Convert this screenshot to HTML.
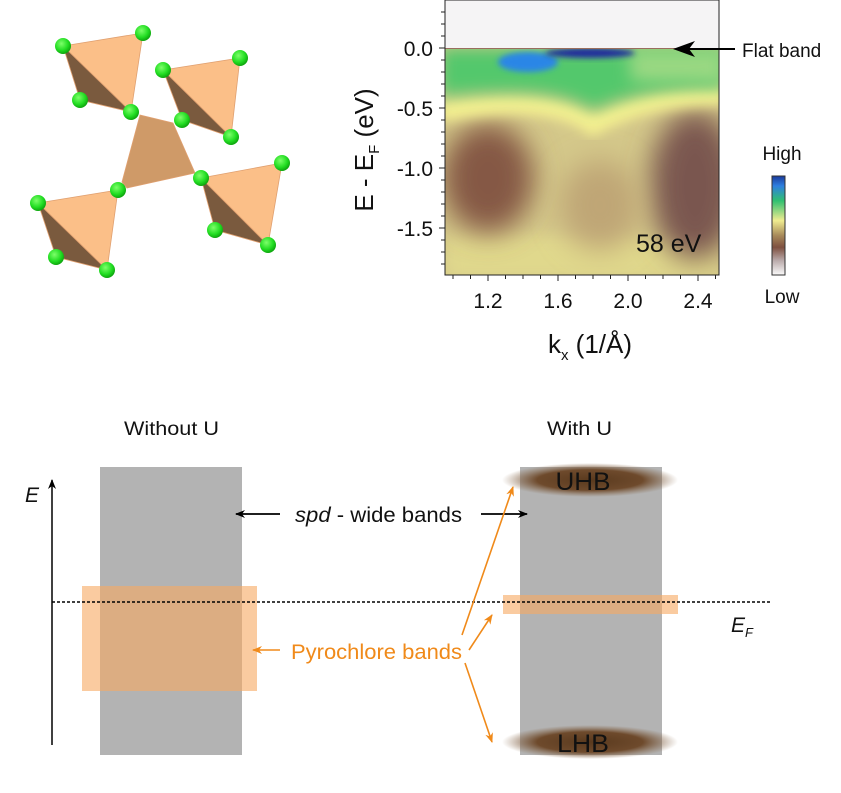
<!DOCTYPE html>
<html><head><meta charset="utf-8"><style>html,body{margin:0;padding:0;background:#fff}svg{display:block}</style></head>
<body>
<svg width="841" height="793" viewBox="0 0 841 793" xmlns="http://www.w3.org/2000/svg" font-family="Liberation Sans, sans-serif">
<defs>
<filter id="b8" x="-50%" y="-50%" width="200%" height="200%"><feGaussianBlur stdDeviation="8"/></filter>
<filter id="b14" x="-50%" y="-50%" width="200%" height="200%"><feGaussianBlur stdDeviation="14"/></filter>
<filter id="b4" x="-50%" y="-50%" width="200%" height="200%"><feGaussianBlur stdDeviation="3"/></filter>
<filter id="b6" x="-50%" y="-50%" width="200%" height="200%"><feGaussianBlur stdDeviation="6"/></filter>
<clipPath id="pc"><rect x="445" y="48" width="274" height="227"/></clipPath>
<linearGradient id="cb" x1="0" y1="0" x2="0" y2="1">
<stop offset="0" stop-color="#1a3a9a"/><stop offset="0.1" stop-color="#2e7fe0"/><stop offset="0.25" stop-color="#30c070"/>
<stop offset="0.45" stop-color="#f0ec90"/><stop offset="0.6" stop-color="#a88a5a"/><stop offset="0.72" stop-color="#7e5040"/>
<stop offset="0.85" stop-color="#b8a8a8"/><stop offset="1" stop-color="#fafafa"/></linearGradient>
<radialGradient id="hb"><stop offset="0" stop-color="#5a3a1e"/><stop offset="0.6" stop-color="#6e4a2c"/><stop offset="1" stop-color="#8a6a4c" stop-opacity="0"/></radialGradient>
<radialGradient id="sp" cx="0.4" cy="0.35" r="0.7"><stop offset="0" stop-color="#7dff6a"/><stop offset="0.6" stop-color="#22dd22"/><stop offset="1" stop-color="#0a9a0a"/></radialGradient>
<marker id="ak" markerWidth="10" markerHeight="8" refX="9" refY="4" orient="auto" markerUnits="userSpaceOnUse"><path d="M0,0 L10,4 L0,8 L3,4z" fill="#000"/></marker>
<marker id="ao" markerWidth="10" markerHeight="8" refX="9" refY="4" orient="auto" markerUnits="userSpaceOnUse"><path d="M0,0 L10,4 L0,8 L3,4z" fill="#f08a1a"/></marker>
</defs>

<g stroke="#e0a070" stroke-width="0.8">
<polygon points="140,115 173,123 195,173 127,188 122,182" fill="#cf9a68"/>
<polygon points="63,46 143,33 131,112" fill="#fbbf88"/><polygon points="63,46 131,112 80,100" fill="#7a5a3e"/>
<polygon points="163,70 240,58 231,137" fill="#fbbf88"/><polygon points="163,70 231,137 182,120" fill="#7a5a3e"/>
<polygon points="38,203 118,190 107,270" fill="#fbbf88"/><polygon points="38,203 107,270 56,257" fill="#7a5a3e"/>
<polygon points="201,178 282,163 268,245" fill="#fbbf88"/><polygon points="201,178 268,245 215,230" fill="#7a5a3e"/>
</g>
<g fill="url(#sp)">
<circle cx="63" cy="46" r="8"/><circle cx="143" cy="33" r="8"/><circle cx="80" cy="100" r="8"/><circle cx="131" cy="112" r="8"/>
<circle cx="163" cy="70" r="8"/><circle cx="240" cy="58" r="8"/><circle cx="182" cy="120" r="8"/><circle cx="231" cy="137" r="8"/>
<circle cx="38" cy="203" r="8"/><circle cx="118" cy="190" r="8"/><circle cx="56" cy="257" r="8"/><circle cx="107" cy="270" r="8"/>
<circle cx="201" cy="178" r="8"/><circle cx="282" cy="163" r="8"/><circle cx="215" cy="230" r="8"/><circle cx="268" cy="245" r="8"/>
</g>

<rect x="445" y="0" width="274" height="48" fill="#f5f4f5"/>
<g clip-path="url(#pc)">
<rect x="445" y="48" width="274" height="227" fill="#d4c88a"/>
<rect x="445" y="235" width="274" height="45" fill="#e0d88c" filter="url(#b8)"/>
<ellipse cx="488" cy="178" rx="46" ry="55" fill="#855845" filter="url(#b14)"/>
<ellipse cx="695" cy="185" rx="45" ry="75" fill="#7a5650" filter="url(#b14)"/>
<ellipse cx="600" cy="205" rx="40" ry="45" fill="#bfa676" filter="url(#b14)"/>
<path d="M440,112 C500,100 560,100 593,125 C620,110 660,95 725,95" stroke="#f4f090" stroke-width="20" fill="none" filter="url(#b6)"/>
<path d="M440,48 L725,48 L725,88 C660,86 620,98 593,110 C560,88 500,90 440,96 Z" fill="#52c86c" filter="url(#b8)"/>
<path d="M630,50 L725,50 L725,84 C680,80 655,84 630,80Z" fill="#9ad882" filter="url(#b8)"/>
<ellipse cx="528" cy="62" rx="30" ry="10" fill="#2a86e6" filter="url(#b4)"/>
<ellipse cx="590" cy="53" rx="45" ry="5" fill="#1c2c9c" filter="url(#b4)"/>
<rect x="445" y="47" width="274" height="2" fill="#9a6e5e"/>
</g>
<rect x="445" y="0" width="274" height="275" fill="none" stroke="#222" stroke-width="1"/>
<g stroke="#222" stroke-width="1">
<line x1="439" y1="48" x2="445" y2="48"/><line x1="439" y1="108" x2="445" y2="108"/><line x1="439" y1="168" x2="445" y2="168"/><line x1="439" y1="228" x2="445" y2="228"/>
<path d="M441,12h4M441,24h4M441,36h4M441,60h4M441,72h4M441,84h4M441,96h4M441,120h4M441,132h4M441,144h4M441,156h4M441,180h4M441,192h4M441,204h4M441,216h4M441,240h4M441,252h4M441,264h4"/>
<line x1="488" y1="275" x2="488" y2="281"/><line x1="558" y1="275" x2="558" y2="281"/><line x1="628" y1="275" x2="628" y2="281"/><line x1="698" y1="275" x2="698" y2="281"/>
<path d="M453,275v4M470.5,275v4M505.5,275v4M523,275v4M540.5,275v4M575.5,275v4M593,275v4M610.5,275v4M645.5,275v4M663,275v4M680.5,275v4M715.5,275v4"/>
</g>
<g font-size="21" fill="#111" text-anchor="end">
<text x="433" y="56">0.0</text><text x="433" y="116">-0.5</text><text x="433" y="176">-1.0</text><text x="433" y="236">-1.5</text>
</g>
<g font-size="21" fill="#111" text-anchor="middle">
<text x="488" y="308">1.2</text><text x="558" y="308">1.6</text><text x="628" y="308">2.0</text><text x="698" y="308">2.4</text>
</g>
<text transform="translate(373,150) rotate(-90)" font-size="26" fill="#111" text-anchor="middle">E - E<tspan font-size="15" dy="6">F</tspan><tspan dy="-6"> (eV)</tspan></text>
<text x="590" y="353" font-size="26" fill="#111" text-anchor="middle">k<tspan font-size="15" dy="7">x</tspan><tspan dy="-7"> (1/Å)</tspan></text>
<text x="636" y="252" font-size="25" fill="#111">58 eV</text>
<line x1="735" y1="49" x2="680" y2="49" stroke="#000" stroke-width="2"/>
<path d="M673,49 L695,41 L689,49 L695,57Z" fill="#000"/>
<text x="742" y="57" font-size="19" fill="#111">Flat band</text>
<rect x="772" y="176" width="13" height="99" fill="url(#cb)" stroke="#333" stroke-width="1"/>
<text x="782" y="160" font-size="19" fill="#111" text-anchor="middle">High</text>
<text x="782" y="303" font-size="19" fill="#111" text-anchor="middle">Low</text>

<text x="124" y="435" font-size="19" fill="#111" textLength="95" lengthAdjust="spacingAndGlyphs">Without U</text>
<text x="547" y="435" font-size="19" fill="#111" textLength="65" lengthAdjust="spacingAndGlyphs">With U</text>
<rect x="100" y="467" width="142" height="288" fill="#b3b3b3"/>
<rect x="520" y="467" width="142" height="288" fill="#b3b3b3"/>
<rect x="82" y="586" width="175" height="105" fill="#f6a860" fill-opacity="0.6"/>
<rect x="503" y="595" width="175" height="19" fill="#f6a860" fill-opacity="0.6"/>
<ellipse cx="590" cy="480" rx="88" ry="17" fill="url(#hb)"/>
<ellipse cx="590" cy="742" rx="88" ry="17" fill="url(#hb)"/>
<text x="583" y="490" font-size="25" fill="#111" text-anchor="middle" textLength="55" lengthAdjust="spacingAndGlyphs">UHB</text>
<text x="583" y="752" font-size="25" fill="#111" text-anchor="middle" textLength="52" lengthAdjust="spacingAndGlyphs">LHB</text>
<line x1="52" y1="745" x2="52" y2="480" stroke="#000" stroke-width="1.5" marker-end="url(#ak)"/>
<text x="25" y="502" font-size="21" font-style="italic" fill="#111">E</text>
<line x1="52" y1="602" x2="772" y2="602" stroke="#000" stroke-width="1.5" stroke-dasharray="3,2"/>
<text x="731" y="632" font-size="21" font-style="italic" fill="#111">E<tspan font-size="13" dy="5">F</tspan></text>
<line x1="280" y1="514" x2="236" y2="514" stroke="#000" stroke-width="1.8" marker-end="url(#ak)"/>
<line x1="481" y1="514" x2="527" y2="514" stroke="#000" stroke-width="1.8" marker-end="url(#ak)"/>
<text x="295" y="522" font-size="21" fill="#111" textLength="167" lengthAdjust="spacingAndGlyphs"><tspan font-style="italic">spd</tspan> - wide bands</text>
<line x1="280" y1="650" x2="253" y2="650" stroke="#f08a1a" stroke-width="1.6" marker-end="url(#ao)"/>
<text x="291" y="659" font-size="21" fill="#f08a1a" textLength="171" lengthAdjust="spacingAndGlyphs">Pyrochlore bands</text>
<line x1="462" y1="635" x2="513" y2="487" stroke="#f08a1a" stroke-width="1.6" marker-end="url(#ao)"/>
<line x1="469" y1="650" x2="492" y2="615" stroke="#f08a1a" stroke-width="1.6" marker-end="url(#ao)"/>
<line x1="465" y1="663" x2="492" y2="742" stroke="#f08a1a" stroke-width="1.6" marker-end="url(#ao)"/>
</svg>
</body></html>
